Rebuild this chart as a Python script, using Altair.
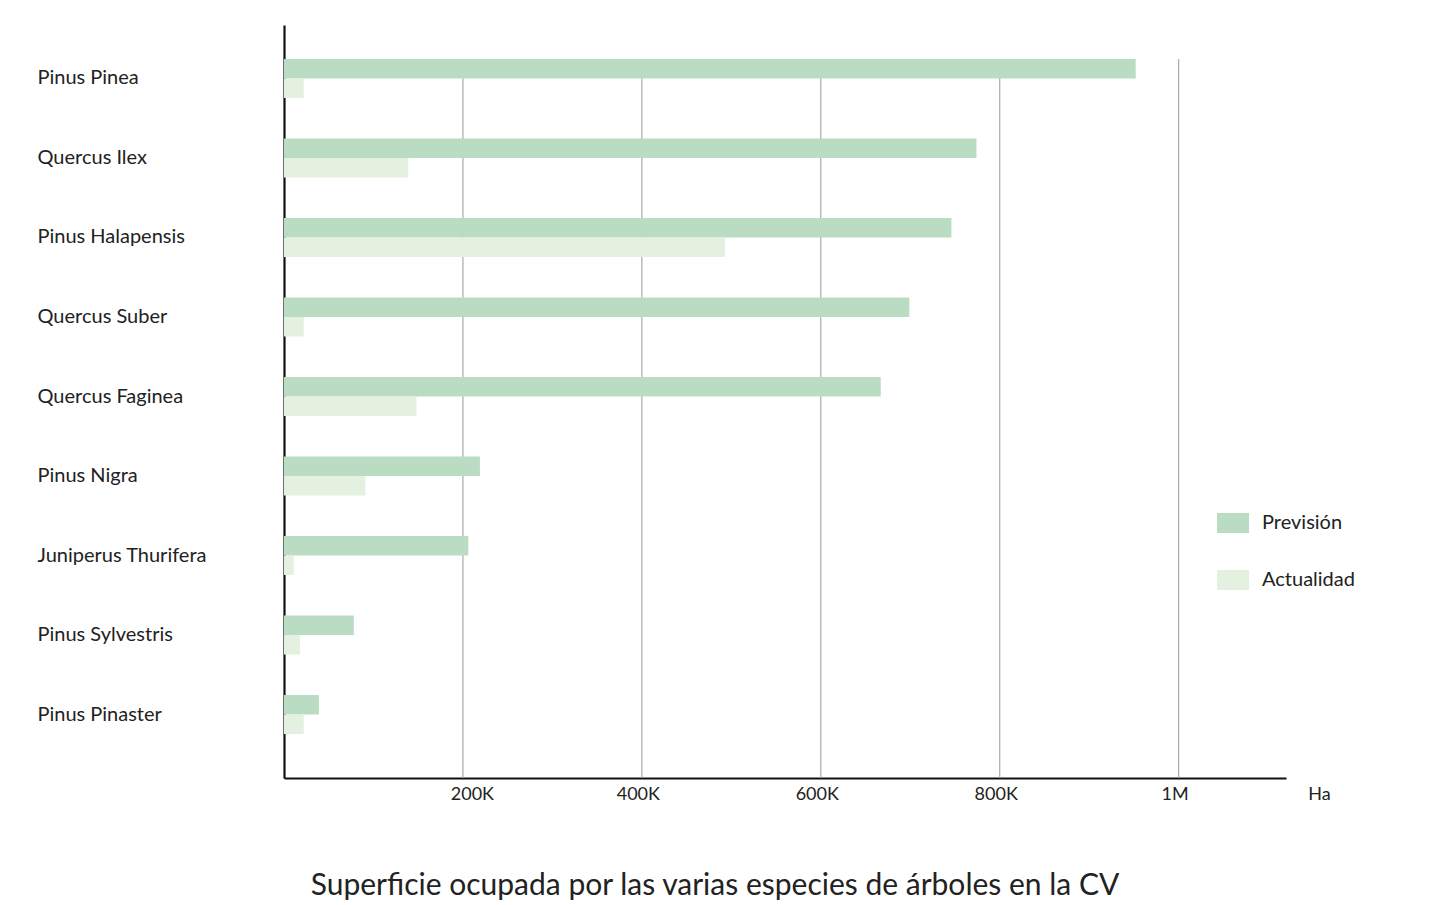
import altair as alt
import pandas as pd

FONT = "Lato"

species = [
    "Pinus Pinea",
    "Quercus Ilex",
    "Pinus Halapensis",
    "Quercus Suber",
    "Quercus Faginea",
    "Pinus Nigra",
    "Juniperus Thurifera",
    "Pinus Sylvestris",
    "Pinus Pinaster",
]
prevision = [952000, 774000, 746000, 699000, 667000, 219000, 206000, 78000, 39000]
actualidad = [22000, 139000, 493000, 22000, 148000, 91000, 11000, 18000, 22000]
series = ["Previsión", "Actualidad"]
colors = ["#badcc3", "#e4f0e0"]
grid_ticks = [200000, 400000, 600000, 800000, 1000000]

rows = []
for name, p, a in zip(species, prevision, actualidad):
    rows.append({"especie": name, "serie": series[0], "ha": p})
    rows.append({"especie": name, "serie": series[1], "ha": a})
df = pd.DataFrame(rows)
grid_df = pd.DataFrame({"ha": grid_ticks})

W, H = 1002, 753

x_scale = alt.Scale(domain=[0, 1120000], nice=False, zero=True)
x_axis = alt.Axis(
    values=grid_ticks,
    labelExpr="datum.value >= 1000000 ? format(datum.value / 1000000, 'd') + 'M' : format(datum.value / 1000, 'd') + 'K'",
    grid=False,
    ticks=False,
    domainColor="#111111",
    domainWidth=2.2,
    labelFont=FONT,
    labelFontSize=18,
    labelColor="#222222",
    labelPadding=7,
    labelOverlap=False,
    labelFlush=False,
    labelOffset={"condition": {"test": "datum.value == 200000", "value": 9}, "value": -4},
    title="Ha",
    titleX=1035,
    titleY=16,
    titleAlign="center",
    titleBaseline="middle",
    titleFont=FONT,
    titleFontSize=18,
    titleFontWeight="normal",
    titleColor="#222222",
)

# vertical reference lines, drawn behind the bars
grid = alt.Chart(grid_df).mark_rule(color="#aaaaaa", strokeWidth=1.2).encode(
    x=alt.X("ha:Q", scale=x_scale, axis=x_axis),
    y=alt.value(34),
    y2=alt.value(H),
)

bars = alt.Chart(df).mark_bar(cornerRadius=0).encode(
    x=alt.X("ha:Q", scale=x_scale, axis=x_axis),
    y=alt.Y(
        "especie:N",
        sort=species,
        scale=alt.Scale(paddingInner=0.51, paddingOuter=0.49, align=0.436),
        axis=alt.Axis(
            title=None,
            ticks=False,
            labelAlign="left",
            labelBaseline="middle",
            labelPadding=247,
            labelFont=FONT,
            labelFontSize=20,
            labelColor="#222222",
            labelLimit=300,
            domainColor="#111111",
            domainWidth=2.2,
        ),
    ),
    yOffset=alt.YOffset("serie:N", sort=series, scale=alt.Scale(paddingInner=0, paddingOuter=0)),
    color=alt.Color(
        "serie:N",
        sort=series,
        scale=alt.Scale(domain=series, range=colors),
        legend=alt.Legend(
            title=None,
            orient="none",
            legendX=933,
            legendY=482,
            symbolType="M-1,-0.625H1V0.625H-1Z",
            symbolSize=1024,
            symbolStrokeWidth=0,
            symbolOpacity=1,
            rowPadding=31,
            labelOffset=13,
            labelFont=FONT,
            labelFontSize=20,
            labelColor="#222222",
        ),
    ),
)

chart = (
    alt.layer(grid, bars)
    .properties(
        width=W,
        height=H,
        autosize=alt.AutoSizeParams(type="none"),
        padding={"left": 284, "top": 25, "right": 161, "bottom": 127},
        title=alt.TitleParams(
            "Superficie ocupada por las varias especies de árboles en la CV",
            orient="bottom",
            anchor="middle",
            dx=-70,
            offset=68,
            font=FONT,
            fontSize=30,
            fontWeight="normal",
            color="#222222",
        ),
    )
    .configure(background="white")
    .configure_view(strokeWidth=0, stroke="transparent")
)

chart.save("out.html", embed_options={"renderer": "svg", "actions": False})
